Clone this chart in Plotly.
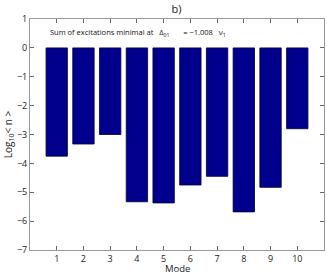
import plotly.graph_objects as go

modes = [1, 2, 3, 4, 5, 6, 7, 8, 9, 10]
log_n = [-3.75, -3.33, -3.0, -5.33, -5.37, -4.75, -4.45, -5.68, -4.83, -2.8]
y_ticks = [-7, -6, -5, -4, -3, -2, -1, 0, 1]
y_labels = ["\u22127", "\u22126", "\u22125", "\u22124", "\u22123", "\u22122", "\u22121", "0", "1"]

fig = go.Figure()
fig.add_trace(go.Bar(x=modes, y=log_n, width=0.8,
                     marker=dict(color="#00008C", line=dict(color="#000033", width=0.8))))

axis_common = dict(showgrid=False, zeroline=False, showline=True, linecolor="#999999",
                   linewidth=1, mirror="ticks", ticks="inside", ticklen=4, automargin=False,
                   tickcolor="#666666", tickfont=dict(family="Open Sans", size=9, color="#222"))

fig.update_layout(
    width=327, height=276,
    margin=dict(l=30, r=3, t=19, b=26, pad=0, autoexpand=False),
    paper_bgcolor="white", plot_bgcolor="white",
    showlegend=False,
    title=dict(text="b)", x=0.54, xanchor="center", y=0.968, yanchor="middle",
               font=dict(family="Open Sans", size=11, color="#222")),
    xaxis=dict(range=[0, 11], tickvals=modes, **axis_common),
    yaxis=dict(range=[-7, 1], tickvals=y_ticks, ticktext=y_labels, **axis_common,
               title=dict(text="Log<sub>10</sub>< n >", font=dict(family="Open Sans", size=10, color="#222"), standoff=2)),
    annotations=[
        dict(xref="paper", yref="y", x=0.06, y=0.5, xanchor="left", yanchor="middle",
             showarrow=False,
             text="Sum of excitations minimal at   \u0394<sub>01</sub>       = \u22121.008   \u03bd<sub>1</sub>",
             font=dict(family="Open Sans", size=7.5, color="#111")),
        dict(xref="paper", yref="paper", x=0.5, y=-26 / 231, xanchor="center", yanchor="bottom",
             showarrow=False, text="Mode", borderpad=0,
             font=dict(family="Open Sans", size=9.5, color="#222")),
    ],
)

fig.write_html("out.html", config={"displayModeBar": False},
               post_script="document.body.style.margin='0';document.body.style.padding='0';")
